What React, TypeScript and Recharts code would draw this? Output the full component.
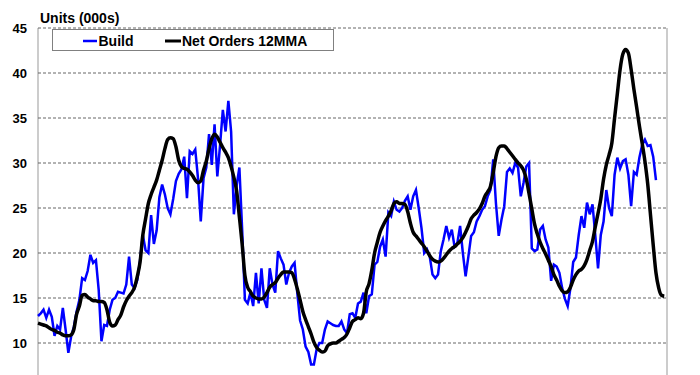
import React from "react";
import { LineChart, Line, XAxis, YAxis, CartesianGrid } from "recharts";

// monthly build numbers (000s)
const build = [
  13.0, 13.3, 13.7, 12.8, 13.7, 12.9, 10.8, 11.9, 11.5, 13.9, 11.5, 8.9,
  10.7, 11.8, 13.5, 14.8, 17.2, 17.0, 18.0, 19.8, 18.9, 19.2, 15.9, 10.2,
  12.0, 11.9, 13.7, 14.8, 15.0, 15.7, 15.6, 15.5, 16.5, 19.6, 16.5, 16.1,
  17.0, 19.2, 22.0, 20.3, 20.0, 24.2, 21.0, 22.5, 26.2, 27.6, 26.5, 25.0,
  24.3, 26.0, 28.0, 28.8, 29.3, 30.7, 26.1, 31.3, 31.0, 31.5, 28.3, 23.5,
  28.3, 29.5, 33.2, 29.8, 34.3, 28.5, 32.0, 35.9, 33.5, 36.9, 33.5, 24.3,
  27.5, 29.5, 22.6, 14.8, 14.4, 15.6, 14.1, 17.8, 14.4, 18.3, 14.8, 13.9,
  18.3, 16.5, 15.6, 20.2, 19.4, 18.7, 16.5, 17.8, 18.5, 18.9, 15.5, 12.5,
  11.5, 9.6, 9.0, 7.6, 7.6, 9.3, 10.0, 10.0, 11.5, 12.4, 12.2, 12.0,
  11.9, 11.9, 12.4, 11.5, 11.1, 13.2, 13.3, 12.8, 14.4, 14.6, 15.6, 13.3,
  15.2, 15.4, 18.7, 19.0, 20.7, 21.5, 19.6, 24.5, 24.1, 25.7, 24.8, 24.6,
  25.0, 25.8, 26.3, 24.8, 26.3, 27.0, 25.0, 22.8, 20.0, 20.4, 19.6, 17.6,
  17.2, 17.6, 20.2, 21.5, 23.0, 21.7, 22.6, 20.7, 21.1, 23.0, 20.0, 17.4,
  19.6, 21.9, 22.3, 23.5, 24.1, 24.8, 25.2, 26.3, 27.0, 30.4, 25.5, 21.9,
  23.7, 25.2, 29.0, 29.4, 28.9, 30.0, 29.5, 26.3, 27.8, 29.6, 30.0, 20.5,
  20.2, 20.4, 22.6, 23.0, 21.5, 20.6, 16.9, 18.7, 18.5, 17.8, 16.1, 14.9,
  14.1, 16.1, 19.0, 19.5, 22.0, 24.1, 22.8, 25.6, 24.3, 25.4, 22.0, 18.3,
  22.0, 23.5, 27.0, 25.0, 24.1, 28.7, 30.6, 29.4, 30.2, 30.4, 28.7, 25.2,
  29.0, 28.7, 30.6, 32.0, 32.6, 31.9, 32.0, 30.7, 28.1,
];

// net orders, 12 month moving average
const netOrders12mma = [
  12.2, 12.1, 12.0, 11.9, 11.7, 11.5, 11.4, 11.2, 11.1, 10.9, 10.8, 10.8,
  10.9, 11.5, 13.2, 14.1, 15.3, 15.4, 15.1, 14.9, 14.7, 14.7, 14.6, 14.6,
  14.5, 13.7, 12.3, 11.9, 12.0, 12.6, 13.1, 14.0, 14.7, 15.2, 15.6, 16.2,
  17.4, 19.0, 22.0, 23.8, 25.5, 26.5, 27.3, 28.1, 29.2, 30.3, 31.6, 32.6,
  32.8, 32.7, 31.8, 30.3, 29.6, 29.4, 29.3, 29.0, 28.6, 28.1, 27.8, 28.0,
  29.2, 30.2, 31.6, 32.7, 33.2, 32.9, 32.3, 31.7, 31.2, 30.6, 29.6, 28.4,
  26.9, 24.0, 21.0, 17.5, 16.2, 15.7, 15.2, 15.0, 14.9, 14.9, 15.1, 15.6,
  16.2, 16.5, 16.7, 17.2, 17.6, 17.9, 17.9, 17.9, 17.8, 17.1, 16.0, 14.8,
  13.5, 12.6, 11.8, 11.0, 10.1, 9.5, 9.2, 9.0, 9.1, 9.7, 9.9, 10.0,
  10.0, 10.2, 10.4, 10.6, 11.0, 11.7, 12.4, 12.6, 12.8, 12.7, 13.3, 15.7,
  16.6, 18.1, 20.0, 21.2, 22.3, 23.0, 23.6, 24.1, 24.7, 25.5, 25.7, 25.5,
  25.5, 25.4, 24.6, 23.3, 22.3, 21.9, 21.5, 21.1, 20.7, 20.2, 19.7, 19.3,
  19.1, 19.0, 19.1, 19.4, 19.8, 20.2, 20.5, 20.7, 21.0, 21.3, 21.7, 22.3,
  23.0, 23.8, 24.2, 24.5, 24.9, 25.5, 26.3, 26.8, 27.4, 28.9, 30.7, 31.7,
  31.9, 31.9, 31.6, 31.2, 30.8, 30.4, 30.0, 29.7, 29.2, 28.2, 26.6, 24.9,
  23.2, 22.1, 21.2, 20.5, 19.9, 19.2, 18.5, 17.6, 17.0, 16.3, 15.8, 15.6,
  15.7, 16.2, 17.0, 17.6, 18.0, 18.2, 18.6, 19.3, 20.3, 21.3, 22.9, 24.4,
  26.0, 28.2, 29.8, 30.9, 32.2, 35.0, 37.7, 40.4, 42.1, 42.6, 42.2, 40.4,
  38.2, 36.2, 34.1, 32.2, 30.2, 27.7, 24.3, 20.9, 17.8, 16.1, 15.3, 15.2,
];

const yTicks = [10, 15, 20, 25, 30, 35, 40, 45];
const yearTicks = [0, 12, 24, 36, 48, 60, 72, 84, 96, 108, 120, 132, 144, 156, 168, 180, 192, 204, 216, 228];

const FONT = '"Liberation Sans", Arial, sans-serif';

const data = netOrders12mma.map((v, i) => ({
  month: i,
  build: i < build.length ? build[i] : null,
  orders: v,
}));

export default function App() {
  return (
    <div
      style={{
        position: "absolute",
        left: 0,
        top: 0,
        width: 700,
        height: 375,
        overflow: "hidden",
        background: "#fff",
        fontFamily: FONT,
      }}
    >
      <LineChart
        width={700}
        height={420}
        data={data}
        margin={{ top: 28, right: 33, left: 0, bottom: 32 }}
      >
        <CartesianGrid horizontal={false} stroke="#999" strokeWidth={1} />
        <CartesianGrid vertical={false} stroke="#666" strokeDasharray="3 2" />
        <XAxis
          dataKey="month"
          type="number"
          domain={[0, 228]}
          ticks={yearTicks}
          height={0}
          tick={false}
          tickLine={false}
          axisLine={false}
        />
        <YAxis
          domain={[5, 45]}
          ticks={yTicks}
          width={38}
          axisLine={false}
          tickLine={false}
          tickSize={6}
          tickMargin={5}
          tick={{ fontSize: 13, fontWeight: "bold", fill: "#000", fontFamily: FONT }}
        />
        <Line
          type="linear"
          dataKey="build"
          stroke="#0000ff"
          strokeWidth={2.5}
          dot={false}
          activeDot={false}
          isAnimationActive={false}
        />
        <Line
          type="monotone"
          dataKey="orders"
          stroke="#000"
          strokeWidth={3.5}
          dot={false}
          activeDot={false}
          isAnimationActive={false}
        />
      </LineChart>
      <svg
        width={700}
        height={375}
        style={{ position: "absolute", left: 0, top: 0, pointerEvents: "none" }}
        fontFamily={FONT}
      >
        <text x={40} y={22.5} fontSize={14} fontWeight="bold" fill="#000">
          Units (000s)
        </text>
        <rect x={52.5} y={29.5} width={281} height={21} fill="#fff" stroke="#808080" />
        <line x1={83} x2={97} y1={41} y2={41} stroke="#0000ff" strokeWidth={2.5} />
        <text x={98.5} y={45.5} fontSize={14} fontWeight="bold" fill="#000">
          Build
        </text>
        <line x1={165} x2={181} y1={41} y2={41} stroke="#000" strokeWidth={3} />
        <text x={182} y={45.5} fontSize={14} fontWeight="bold" fill="#000">
          Net Orders 12MMA
        </text>
      </svg>
    </div>
  );
}
